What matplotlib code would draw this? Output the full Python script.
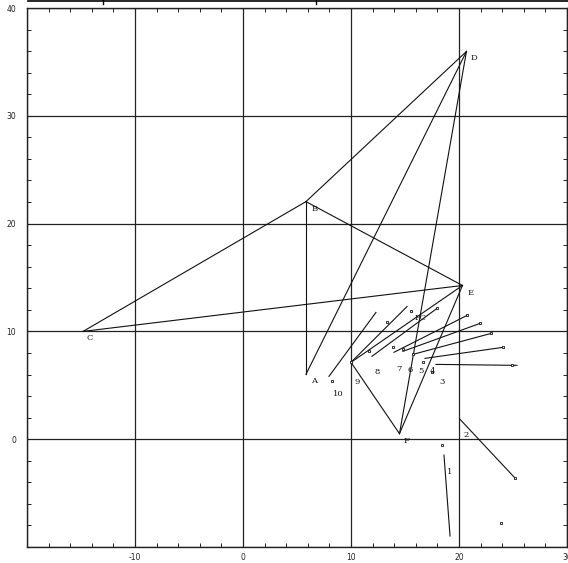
import matplotlib
matplotlib.use("Agg")
import matplotlib.pyplot as plt
from matplotlib.lines import Line2D
from matplotlib.ticker import MultipleLocator, FuncFormatter

# named points of the polygon frame
point_names = ["A", "B", "C", "D", "E", "F", "PC", "P9"]
point_x = [5.83, 5.83, -14.81, 20.69, 20.32, 14.49, 15.56, 10.0]
point_y = [6.02, 22.04, 10.0, 35.97, 14.26, 0.51, 11.85, 7.13]

# edges between named points
edges = [("C", "B"), ("B", "D"), ("C", "E"), ("B", "E"), ("B", "A"),
         ("A", "D"), ("D", "F"), ("E", "F"), ("P9", "E"), ("P9", "F")]

# numbered vectors: start and end
vec_x0 = [18.61, 20.09, 17.87, 16.85, 15.74, 14.81, 13.98, 11.94, 10.09, 7.96]
vec_y0 = [-1.48, 1.85, 6.94, 7.50, 7.87, 8.15, 8.06, 7.69, 7.22, 5.83]
vec_x1 = [19.17, 25.19, 25.37, 24.07, 22.96, 21.94, 20.74, 17.96, 15.19, 12.31]
vec_y1 = [-8.98, -3.61, 6.85, 8.52, 9.81, 10.74, 11.48, 12.13, 12.31, 11.76]

# loose marker points
mark_x = [18.43, 23.89, 24.90, 24.07, 22.96, 21.94, 20.74, 17.96, 15.56, 8.24,
          11.67, 13.33, 13.89, 14.81, 16.67, 17.50, 15.74, 10.0, 25.19]
mark_y = [-0.56, -7.78, 6.85, 8.52, 9.81, 10.74, 11.48, 12.13, 11.85, 5.37,
          8.15, 10.83, 8.52, 8.33, 7.13, 6.20, 7.87, 7.13, -3.61]

# label texts and where they sit
label_text = ["A", "B", "C", "D", "E", "F", "PC",
              "1", "2", "3", "4", "5", "6", "7", "8", "9", "10"]
label_x = [6.3, 6.3, -14.5, 21.1, 20.8, 14.9, 15.9,
           18.9, 20.4, 18.2, 17.3, 16.2, 15.2, 14.2, 12.2, 10.3, 8.3]
label_y = [5.4, 21.4, 9.4, 35.4, 13.6, -0.2, 11.2,
           -3.0, 0.4, 5.3, 6.3, 6.3, 6.4, 6.5, 6.2, 5.3, 4.2]

W, H = 568, 563
fig = plt.figure(figsize=(W / 100, H / 100), dpi=100)
ax = fig.add_axes([27 / W, 16 / H, 540 / W, 539 / H])

lc = "#111111"
pos = dict(zip(point_names, zip(point_x, point_y)))
for a, b in edges:
    ax.plot([pos[a][0], pos[b][0]], [pos[a][1], pos[b][1]], color=lc, lw=0.8)

for x0, y0, x1, y1 in zip(vec_x0, vec_y0, vec_x1, vec_y1):
    ax.plot([x0, x1], [y0, y1], color=lc, lw=0.8)

ax.plot(mark_x, mark_y, ls="none", marker="s", ms=1.8, mfc="white",
        mec=lc, mew=0.6)

for t, x, y in zip(label_text, label_x, label_y):
    ax.text(x, y, t, fontsize=6, family="DejaVu Serif", color=lc,
            ha="left", va="center")

ax.set_xlim(-20, 30)
ax.set_ylim(-10, 40)
ax.xaxis.set_major_locator(MultipleLocator(10))
ax.yaxis.set_major_locator(MultipleLocator(10))
ax.xaxis.set_minor_locator(MultipleLocator(2))
ax.yaxis.set_minor_locator(MultipleLocator(2))
# the lowest value on each axis carries no label
ax.xaxis.set_major_formatter(FuncFormatter(lambda v, p: "" if v < -15 else f"{v:g}"))
ax.yaxis.set_major_formatter(FuncFormatter(lambda v, p: "" if v < -5 else f"{v:g}"))
ax.grid(True, which="major", color="#222222", lw=0.9)
ax.tick_params(which="both", direction="in", top=True, right=True,
               labelsize=5.5, colors="#222222")
ax.tick_params(axis="x", pad=4)
ax.tick_params(axis="y", pad=8)
ax.tick_params(which="minor", length=3, width=0.7)
ax.tick_params(which="major", length=0)
for s in ax.spines.values():
    s.set_linewidth(1.0)
    s.set_color("#222222")

# cropped frame edge along the top of the image
fig.add_artist(Line2D([28 / W, 1.0], [1 - 1 / H, 1 - 1 / H], color="black", lw=1.2))
for px in (103, 316):
    fig.add_artist(Line2D([px / W, px / W], [1 - 4 / H, 1.0], color="black", lw=1.0))

fig.savefig("out.png", dpi=100)
